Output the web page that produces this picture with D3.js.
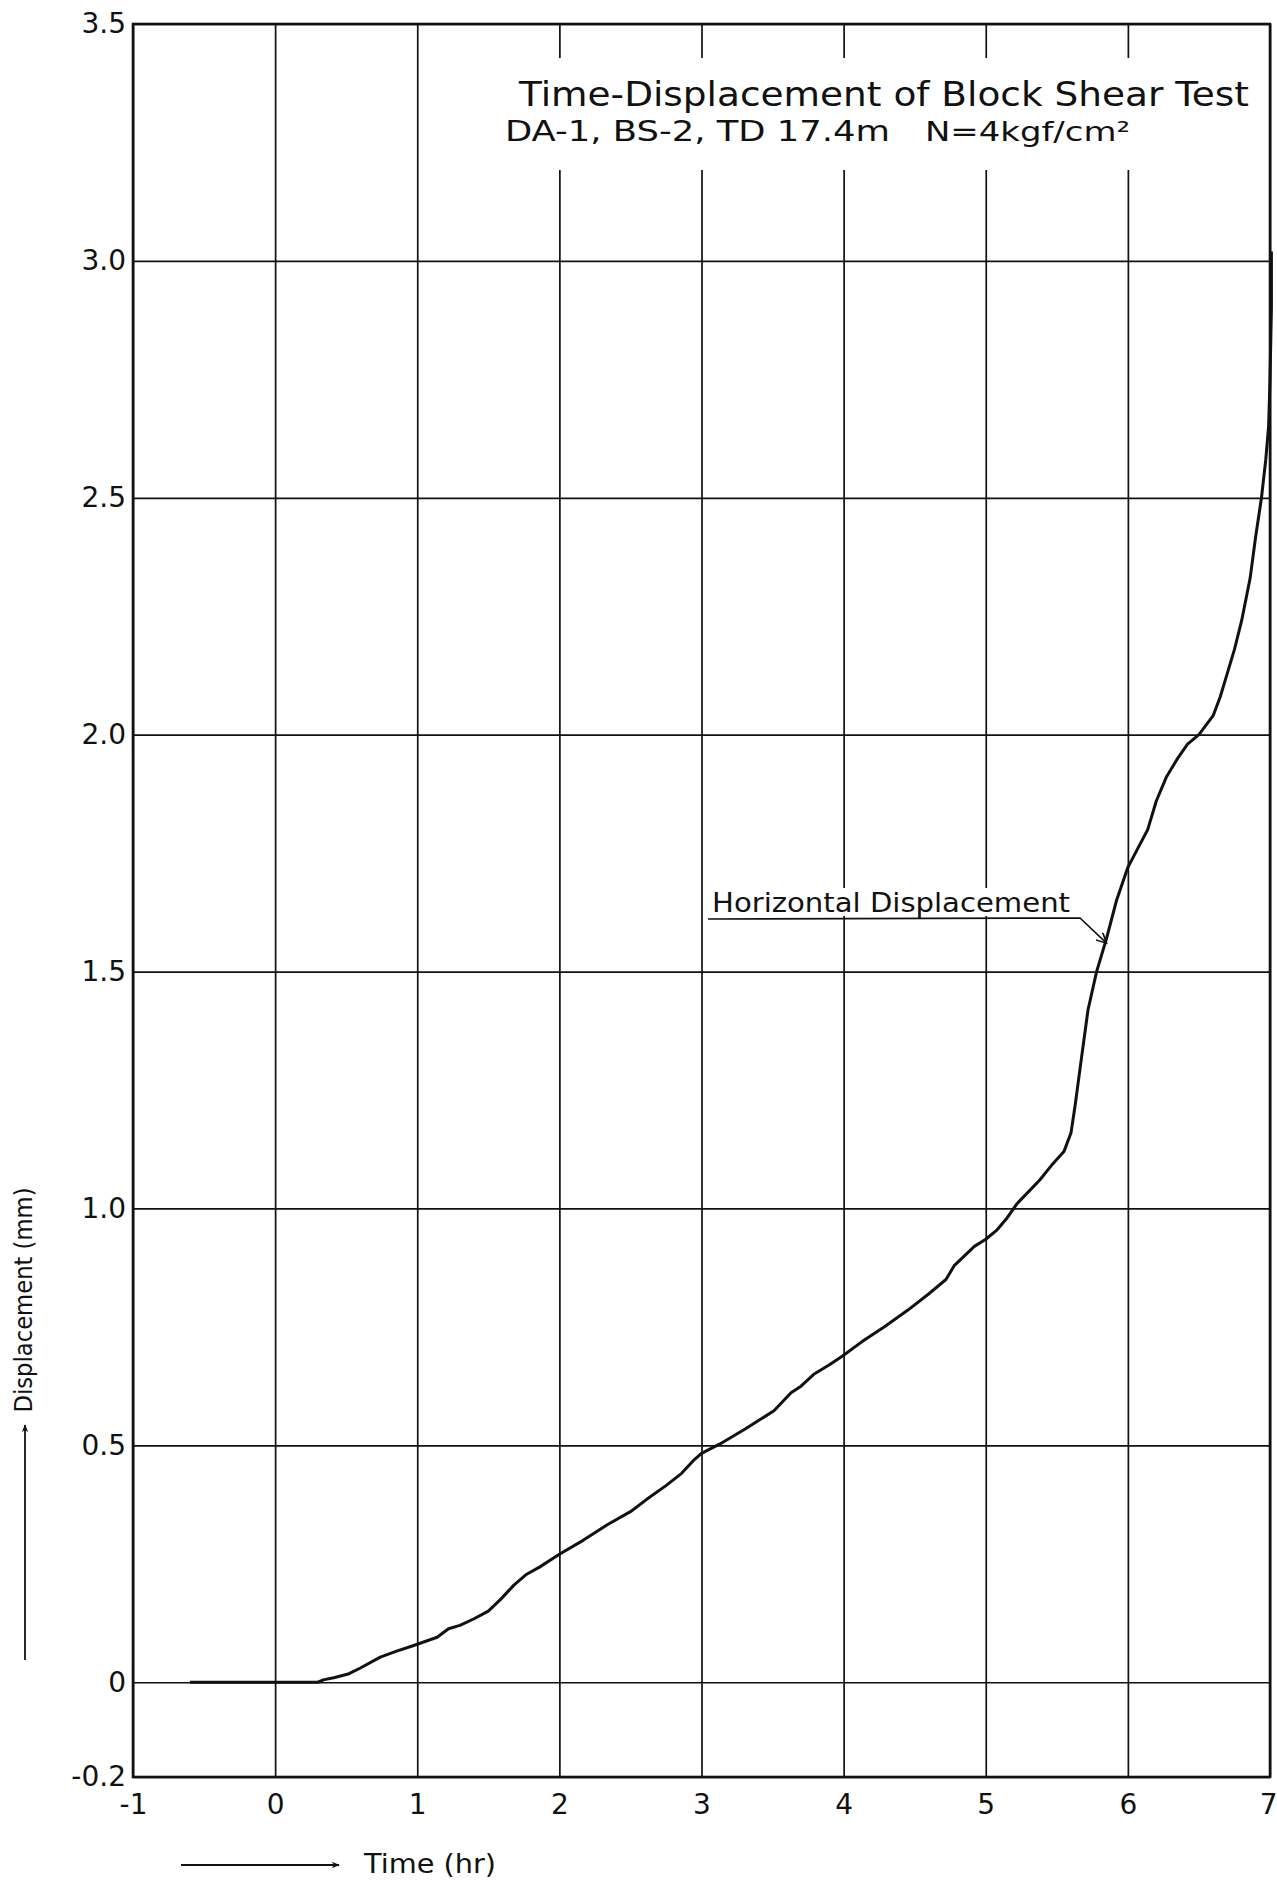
<!DOCTYPE html>
<html>
<head>
<meta charset="utf-8">
<script src="https://cdn.jsdelivr.net/npm/d3@7"></script>
<style>
  html, body { margin:0; padding:0; background:#fff; }
  svg { display:block; }
  text { font-family:"DejaVu Sans", sans-serif; fill:#111; }
</style>
</head>
<body>
<svg id="chart" width="1277" height="1882"></svg>
<script>
/*****************************************************************
 *  Time–displacement curve, block shear test
 *****************************************************************/

/* ---------- data ----------------------------------------------- */
const timeHr = [
  -0.6, 0.0, 0.3, 0.34, 0.42, 0.52, 0.6, 0.74, 0.85, 0.97,
  1.14, 1.22, 1.3, 1.4, 1.5, 1.59, 1.68, 1.77, 1.86, 2.0,
  2.17, 2.34, 2.5, 2.61, 2.75, 2.86, 2.95, 3.0, 3.13, 3.31,
  3.51, 3.63, 3.7, 3.79, 3.9, 3.99, 4.13, 4.29, 4.45, 4.6,
  4.72, 4.78, 4.85, 4.92, 5.0, 5.08, 5.15, 5.22, 5.3, 5.38,
  5.46, 5.55, 5.6, 5.63, 5.67, 5.72, 5.78, 5.85, 5.92, 6.0,
  6.07, 6.14, 6.2, 6.27, 6.35, 6.42, 6.5, 6.6, 6.65, 6.7,
  6.75, 6.8, 6.86, 6.9, 6.94, 6.97, 6.99, 7.0, 7.01, 7.01
];
const dispMm = [
  0.0, 0.0, 0.0, 0.005, 0.01, 0.018, 0.03, 0.053, 0.065, 0.077,
  0.095, 0.113, 0.12, 0.134, 0.15, 0.176, 0.205, 0.228, 0.243, 0.27,
  0.30, 0.333, 0.36, 0.385, 0.415, 0.441, 0.47, 0.483, 0.503, 0.535,
  0.573, 0.611, 0.625, 0.65, 0.67, 0.688, 0.719, 0.751, 0.785, 0.82,
  0.85, 0.88, 0.90, 0.92, 0.935, 0.955, 0.98, 1.01, 1.035, 1.06,
  1.09, 1.12, 1.16, 1.22, 1.31, 1.42, 1.50, 1.57, 1.65, 1.72,
  1.76, 1.80, 1.86, 1.91, 1.95, 1.98, 2.00, 2.04, 2.08, 2.13,
  2.18, 2.24, 2.33, 2.42, 2.50, 2.58, 2.65, 2.75, 2.90, 3.02
];

const xTicks      = [-1, 0, 1, 2, 3, 4, 5, 6, 7];
const xTickLabels = ["-1", "0", "1", "2", "3", "4", "5", "6", "7"];
const yTicks      = [-0.2, 0, 0.5, 1, 1.5, 2, 2.5, 3, 3.5];
const yTickLabels = ["-0.2", "0", "0.5", "1.0", "1.5", "2.0", "2.5", "3.0", "3.5"];

const titleMain  = "Time-Displacement of Block Shear Test";
const titleSpec  = "DA-1, BS-2, TD 17.4m";
const titleLoad  = "N=4kgf/cm²";
const curveLabel = "Horizontal Displacement";
const xLabel     = "Time (hr)";
const yLabel     = "Displacement (mm)";

/* ---------- layout --------------------------------------------- */
const frame = {left:133, right:1270, top:24, bottom:1777};
const ink   = "#111";

const svg = d3.select("#chart");

const x = d3.scaleLinear().domain([-1, 7]).range([frame.left, frame.right]);
const y = d3.scaleLinear().domain([-0.2, 3.5]).range([frame.bottom, frame.top]);

const plotW = frame.right - frame.left;
const plotH = frame.bottom - frame.top;

/* arrowheads */
const defs = svg.append("defs");
defs.append("marker")
    .attr("id", "head")
    .attr("viewBox", "0 0 10 10")
    .attr("refX", 9).attr("refY", 5)
    .attr("markerWidth", 14).attr("markerHeight", 8)
    .attr("markerUnits", "userSpaceOnUse")
    .attr("orient", "auto")
  .append("path")
    .attr("d", "M0,1 L10,5 L0,9 L3,5 Z")
    .attr("fill", ink);
defs.append("marker")
    .attr("id", "barb")
    .attr("viewBox", "0 0 10 10")
    .attr("refX", 10).attr("refY", 5)
    .attr("markerWidth", 16).attr("markerHeight", 10)
    .attr("markerUnits", "userSpaceOnUse")
    .attr("orient", "auto")
  .append("path")
    .attr("d", "M0,0 L10,5 L0,10")
    .attr("fill", "none")
    .attr("stroke", ink)
    .attr("stroke-width", 1.6);

/* ---------- grid via axes -------------------------------------- */
const gx = svg.append("g")
    .attr("transform", `translate(0,${frame.bottom})`)
    .call(d3.axisBottom(x)
      .tickValues(xTicks)
      .tickFormat((d, i) => xTickLabels[i])
      .tickSize(-plotH)
      .tickPadding(17));
gx.select(".domain").remove();
gx.selectAll(".tick line").attr("stroke", ink).attr("stroke-width", 1.7);
gx.selectAll(".tick text")
    .attr("font-size", 28)
    .attr("fill", ink)
    .style("font-family", "\"DejaVu Sans\", sans-serif")
    .attr("text-anchor", d => d === 7 ? "end" : "middle")
    .attr("x", d => d === 7 ? 7 : 0);

const gy = svg.append("g")
    .attr("transform", `translate(${frame.left},0)`)
    .call(d3.axisLeft(y)
      .tickValues(yTicks)
      .tickFormat((d, i) => yTickLabels[i])
      .tickSize(-plotW)
      .tickPadding(7));
gy.select(".domain").remove();
gy.selectAll(".tick line").attr("stroke", ink).attr("stroke-width", 1.7);
gy.selectAll(".tick text")
    .attr("font-size", 28)
    .attr("fill", ink)
    .style("font-family", "\"DejaVu Sans\", sans-serif");

/* gaps in the grid where lettering sits */
svg.append("rect")
    .attr("x", 505).attr("y", 58)
    .attr("width", 752).attr("height", 112)
    .attr("fill", "#fff");
svg.append("rect")
    .attr("x", 712).attr("y", 888)
    .attr("width", 360).attr("height", 28)
    .attr("fill", "#fff");

/* frame */
svg.append("rect")
    .attr("x", frame.left).attr("y", frame.top)
    .attr("width", plotW).attr("height", plotH)
    .attr("fill", "none")
    .attr("stroke", ink)
    .attr("stroke-width", 2.6);

/* ---------- curve ---------------------------------------------- */
const pts = timeHr.map((t, i) => [t, dispMm[i]]);
svg.append("path")
    .datum(pts)
    .attr("fill", "none")
    .attr("stroke", ink)
    .attr("stroke-width", 3)
    .attr("stroke-linejoin", "round")
    .attr("d", d3.line().x(d => x(d[0])).y(d => y(d[1])).curve(d3.curveLinear));

/* ---------- titles --------------------------------------------- */
svg.append("text")
    .attr("x", 519).attr("y", 106)
    .attr("font-size", 33)
    .attr("textLength", 730).attr("lengthAdjust", "spacingAndGlyphs")
    .text(titleMain);
svg.append("text")
    .attr("x", 505).attr("y", 141)
    .attr("font-size", 29)
    .attr("textLength", 385).attr("lengthAdjust", "spacingAndGlyphs")
    .text(titleSpec);
svg.append("text")
    .attr("x", 925).attr("y", 141)
    .attr("font-size", 27)
    .attr("textLength", 205).attr("lengthAdjust", "spacingAndGlyphs")
    .text(titleLoad);

/* ---------- curve annotation ----------------------------------- */
svg.append("text")
    .attr("x", 712).attr("y", 912)
    .attr("font-size", 27)
    .attr("textLength", 358).attr("lengthAdjust", "spacingAndGlyphs")
    .text(curveLabel);
svg.append("path")
    .attr("d", d3.line()([[708, 919], [1080, 918], [x(5.85), y(1.56)]]))
    .attr("fill", "none")
    .attr("stroke", ink)
    .attr("stroke-width", 1.6)
    .attr("marker-end", "url(#barb)");

/* ---------- axis titles ---------------------------------------- */
svg.append("line")
    .attr("x1", 181).attr("y1", 1865)
    .attr("x2", 339).attr("y2", 1865)
    .attr("stroke", ink).attr("stroke-width", 1.8)
    .attr("marker-end", "url(#head)");
svg.append("text")
    .attr("x", 364).attr("y", 1873)
    .attr("font-size", 26)
    .attr("textLength", 132).attr("lengthAdjust", "spacingAndGlyphs")
    .text(xLabel);

svg.append("line")
    .attr("x1", 25).attr("y1", 1660)
    .attr("x2", 25).attr("y2", 1425)
    .attr("stroke", ink).attr("stroke-width", 1.8)
    .attr("marker-end", "url(#head)");
svg.append("text")
    .attr("transform", "translate(32,1300) rotate(-90)")
    .attr("text-anchor", "middle")
    .attr("font-size", 24)
    .attr("textLength", 225).attr("lengthAdjust", "spacingAndGlyphs")
    .text(yLabel);
</script>
</body>
</html>
